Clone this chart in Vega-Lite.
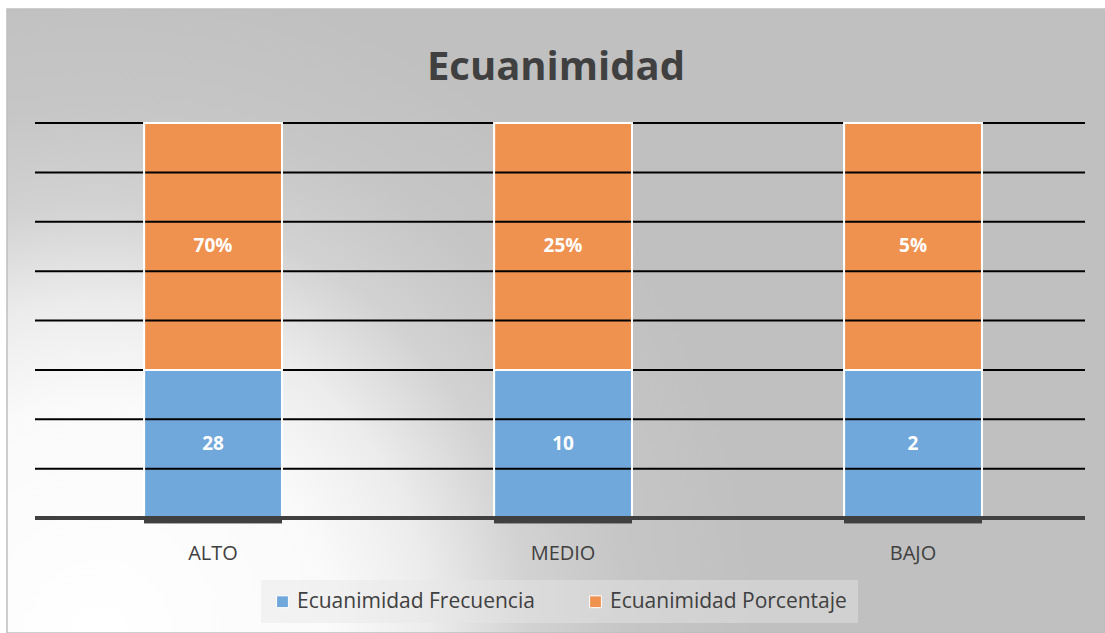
{
  "$schema": "https://vega.github.io/schema/vega-lite/v6.json",
  "width": 1098,
  "height": 624,
  "autosize": {"type": "none"},
  "padding": {"left": 7, "top": 9, "right": 0, "bottom": 0},
  "background": "white",
  "title": {
    "text": "Ecuanimidad",
    "font": "Open Sans",
    "fontSize": 40,
    "fontWeight": "bold",
    "color": "#404040",
    "anchor": "middle",
    "offset": 0,
    "baseline": "alphabetic",
    "dy": 111
  },
  "config": {
    "view": {
      "fill": {
        "gradient": "radial",
        "x1": 0.0847, "y1": 0.7842, "r1": 0,
        "x2": 0.0847, "y2": 0.7842, "r2": 0.6,
        "stops": [
          {"offset": 0, "color": "#ffffff"},
          {"offset": 0.35, "color": "#fafafa"},
          {"offset": 0.5, "color": "#ececec"},
          {"offset": 0.65, "color": "#d2d2d2"},
          {"offset": 0.8, "color": "#c6c6c6"},
          {"offset": 1, "color": "#c0c0c0"}
        ]
      },
      "stroke": "#bfbfbf",
      "strokeWidth": 1.5
    },
    "legend": {
      "orient": "none",
      "legendX": 254,
      "legendY": 571,
      "direction": "horizontal",
      "symbolType": "square",
      "symbolSize": 140,
      "symbolStrokeWidth": 1,
      "labelFont": "Open Sans",
      "labelFontSize": 21,
      "labelColor": "#404040",
      "labelLimit": 400,
      "columnPadding": 50,
      "padding": 11,
      "fillColor": "rgba(230,230,230,0.45)"
    }
  },
  "datasets": {
    "valores": [
      {"nivel": "ALTO", "serie": "Ecuanimidad Frecuencia", "share": 37.5, "label": "28"},
      {"nivel": "ALTO", "serie": "Ecuanimidad Porcentaje", "share": 62.5, "label": "70%"},
      {"nivel": "MEDIO", "serie": "Ecuanimidad Frecuencia", "share": 37.5, "label": "10"},
      {"nivel": "MEDIO", "serie": "Ecuanimidad Porcentaje", "share": 62.5, "label": "25%"},
      {"nivel": "BAJO", "serie": "Ecuanimidad Frecuencia", "share": 37.5, "label": "2"},
      {"nivel": "BAJO", "serie": "Ecuanimidad Porcentaje", "share": 62.5, "label": "5%"}
    ],
    "grid": [
      {"g": 12.5}, {"g": 25}, {"g": 37.5}, {"g": 50},
      {"g": 62.5}, {"g": 75}, {"g": 87.5}, {"g": 100}
    ]
  },
  "resolve": {"scale": {"x": "independent"}, "axis": {"x": "independent"}},
  "layer": [
    {
      "data": {"name": "valores"},
      "mark": {"type": "bar", "stroke": "white", "strokeWidth": 2},
      "encoding": {
        "x": {
          "field": "nivel", "type": "nominal", "sort": ["ALTO", "MEDIO", "BAJO"],
          "scale": {"type": "band", "paddingInner": 0.606, "paddingOuter": 0.3716, "align": 0.527},
          "axis": {
            "orient": "bottom", "offset": -115, "domain": false, "ticks": false, "grid": false,
            "labelAngle": 0, "labelFont": "Open Sans", "labelFontSize": 20, "labelColor": "#404040",
            "labelPadding": 25, "title": null
          }
        },
        "y": {
          "field": "share", "type": "quantitative", "stack": "zero",
          "scale": {"domain": [-29.11, 128.86], "nice": false, "zero": false},
          "axis": null
        },
        "color": {
          "field": "serie", "type": "nominal",
          "scale": {"domain": ["Ecuanimidad Frecuencia", "Ecuanimidad Porcentaje"], "range": ["#70a8dc", "#ef914f"]},
          "legend": {"title": null}
        },
        "order": {"field": "serie", "sort": "ascending"}
      }
    },
    {
      "data": {"name": "grid"},
      "mark": {"type": "rule", "color": "black", "strokeWidth": 2},
      "encoding": {
        "x": {"datum": 0, "type": "quantitative", "scale": {"domain": [-0.026667, 1.019048], "nice": false, "zero": false}, "axis": null},
        "x2": {"datum": 1},
        "y": {"field": "g", "type": "quantitative", "scale": {"domain": [-29.11, 128.86], "nice": false, "zero": false}, "axis": null}
      }
    },
    {
      "data": {"name": "valores"},
      "mark": {"type": "bar", "fillOpacity": 0, "stroke": "white", "strokeWidth": 2},
      "encoding": {
        "x": {
          "field": "nivel", "type": "nominal", "sort": ["ALTO", "MEDIO", "BAJO"],
          "scale": {"type": "band", "paddingInner": 0.606, "paddingOuter": 0.3716, "align": 0.527},
          "axis": null
        },
        "y": {
          "field": "share", "type": "quantitative", "stack": "zero",
          "scale": {"domain": [-29.11, 128.86], "nice": false, "zero": false},
          "axis": null
        },
        "detail": {"field": "serie"},
        "order": {"field": "serie", "sort": "ascending"}
      }
    },
    {
      "data": {"values": [{}]},
      "mark": {"type": "rule", "color": "#404040", "strokeWidth": 4},
      "encoding": {
        "x": {"datum": 0, "type": "quantitative", "scale": {"domain": [-0.026667, 1.019048], "nice": false, "zero": false}, "axis": null},
        "x2": {"datum": 1},
        "y": {"datum": 0, "type": "quantitative", "scale": {"domain": [-29.11, 128.86], "nice": false, "zero": false}, "axis": null}
      }
    },
    {
      "data": {"name": "valores"},
      "mark": {"type": "bar", "color": "#404040"},
      "encoding": {
        "x": {
          "field": "nivel", "type": "nominal", "sort": ["ALTO", "MEDIO", "BAJO"],
          "scale": {"type": "band", "paddingInner": 0.606, "paddingOuter": 0.3716, "align": 0.527},
          "axis": null
        },
        "y": {"datum": 0, "type": "quantitative", "scale": {"domain": [-29.11, 128.86], "nice": false, "zero": false}, "axis": null},
        "y2": {"datum": -1.3}
      }
    },
    {
      "data": {"name": "valores"},
      "mark": {"type": "text", "font": "Open Sans", "fontSize": 19, "fontWeight": "bold", "color": "white", "baseline": "middle"},
      "encoding": {
        "x": {
          "field": "nivel", "type": "nominal", "sort": ["ALTO", "MEDIO", "BAJO"],
          "scale": {"type": "band", "paddingInner": 0.606, "paddingOuter": 0.3716, "align": 0.527},
          "axis": null
        },
        "y": {
          "field": "share", "type": "quantitative", "stack": "zero", "bandPosition": 0.5,
          "scale": {"domain": [-29.11, 128.86], "nice": false, "zero": false},
          "axis": null
        },
        "detail": {"field": "serie"},
        "order": {"field": "serie", "sort": "ascending"},
        "text": {"field": "label"}
      }
    }
  ]
}
